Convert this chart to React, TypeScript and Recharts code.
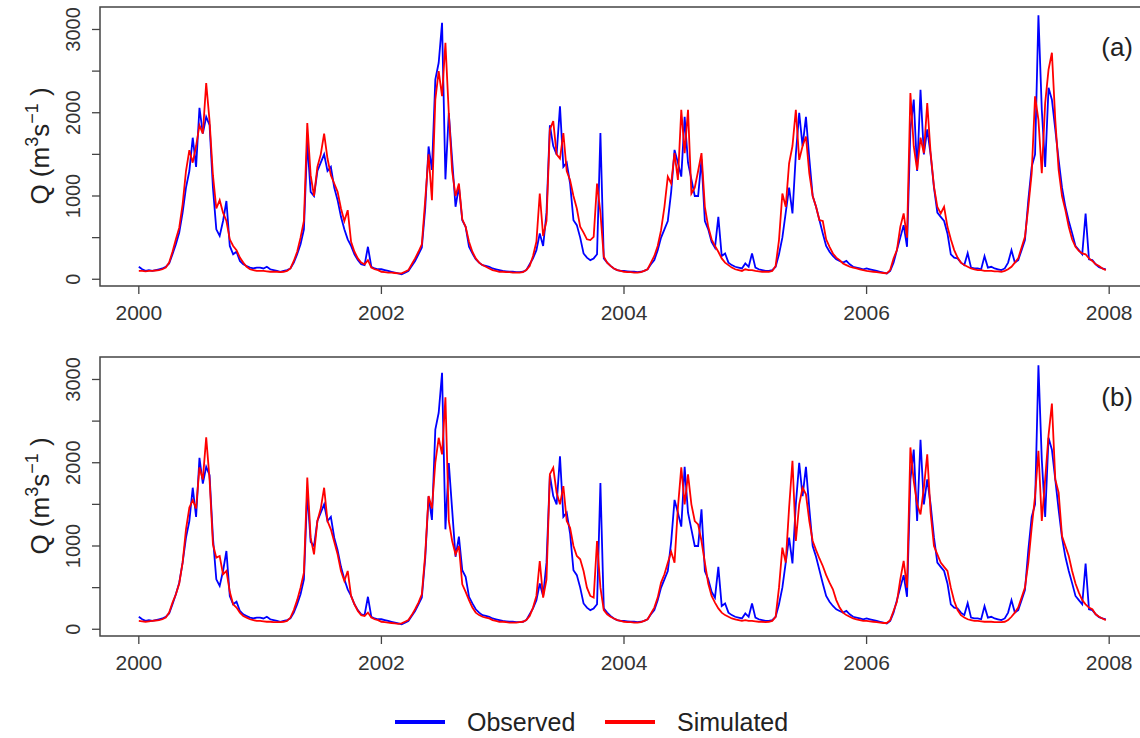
import React from "react";
import { LineChart, Line, XAxis, YAxis, ReferenceArea } from "recharts";

// dekadal discharge (36 steps per year)
const YEARS = [2000, 2001, 2002, 2003, 2004, 2005, 2006, 2007];
const STEPS_PER_YEAR = 36;
const X_TICKS = [2000, 2002, 2004, 2006, 2008];
const Y_TICKS = [0, 500, 1000, 1500, 2000, 2500, 3000];
const Y_LABELS = [0, 1000, 2000, 3000];
const SERIES_NAMES = ["Observed", "Simulated"];
const PANEL_LABELS = ["(a)", "(b)"];

const observed = [
  [150, 120, 100, 110, 100, 110, 120, 130, 150, 190, 300, 420, 560, 800, 1100, 1300, 1700, 1350, 2060, 1750, 1950, 1850, 1100, 600, 520, 700, 940, 400, 300, 330, 220, 180, 160, 140, 130, 140],
  [140, 130, 150, 120, 110, 100, 90, 100, 110, 130, 200, 300, 420, 600, 1650, 1050, 1000, 1300, 1400, 1500, 1300, 1350, 1100, 950, 750, 600, 480, 400, 300, 230, 180, 170, 390, 150, 130, 120],
  [120, 110, 100, 90, 80, 70, 60, 80, 100, 160, 220, 300, 380, 850, 1595, 1313, 2397, 2600, 3080, 1200, 1996, 1434, 871, 1112, 710, 630, 390, 310, 240, 200, 170, 160, 150, 130, 120, 110],
  [100, 95, 90, 90, 85, 85, 90, 110, 180, 250, 350, 550, 400, 800, 1850, 1600, 1500, 2076, 1350, 1400, 1150, 710, 650, 500, 310, 260, 230, 250, 300, 1755, 250, 200, 160, 130, 110, 100],
  [100, 95, 90, 90, 85, 90, 100, 120, 180, 230, 350, 500, 600, 700, 1050, 1554, 1400, 1233, 1950, 1400, 1200, 1000, 1000, 1440, 700, 600, 450, 380, 750, 280, 310, 200, 170, 150, 140, 130],
  [190, 150, 310, 140, 120, 110, 100, 100, 110, 150, 300, 500, 800, 1100, 790, 1500, 2000, 1600, 1950, 1450, 1000, 870, 710, 550, 400, 330, 280, 240, 220, 200, 220, 180, 150, 140, 130, 120],
  [130, 120, 110, 100, 90, 80, 70, 100, 200, 350, 500, 650, 390, 1800, 2157, 1300, 2277, 1500, 1800, 1500, 1100, 800, 750, 700, 550, 300, 260, 250, 200, 170, 313, 140, 130, 130, 120, 277],
  [140, 150, 130, 120, 110, 130, 200, 350, 200, 230, 350, 470, 950, 1350, 1500, 3170, 2036, 1349, 2300, 2157, 1800, 1434, 1100, 870, 700, 554, 400, 350, 300, 790, 240, 230, 180, 145, 130, 120],
];

const simulatedA = [
  [100, 100, 95, 100, 100, 105, 110, 120, 140, 200, 330, 480, 620, 900, 1300, 1550, 1400, 1600, 1850, 1750, 2357, 1900, 1250, 850, 950, 800, 700, 480, 400, 350, 260, 200, 150, 120, 110, 100],
  [100, 100, 95, 90, 90, 90, 85, 90, 100, 130, 220, 330, 500, 700, 1875, 1250, 1000, 1350, 1500, 1750, 1450, 1250, 1150, 1050, 850, 700, 830, 450, 330, 250, 200, 180, 230, 140, 120, 110],
  [90, 85, 80, 80, 75, 70, 70, 90, 110, 180, 250, 330, 420, 950, 1500, 950, 2157, 2500, 2200, 2840, 1996, 1300, 1000, 1150, 720, 630, 450, 330, 250, 200, 170, 150, 130, 110, 100, 90],
  [90, 85, 85, 80, 80, 80, 85, 110, 160, 280, 450, 1030, 520, 700, 1800, 1900, 1500, 1450, 1755, 1300, 1190, 1000, 850, 630, 560, 480, 470, 510, 1150, 800, 270, 200, 160, 130, 110, 100],
  [90, 85, 85, 80, 80, 85, 100, 120, 200, 280, 400, 590, 870, 1233, 1150, 1515, 1193, 2036, 1515, 2036, 1030, 1100, 1300, 1515, 870, 630, 480, 400, 330, 250, 200, 170, 140, 120, 110, 100],
  [120, 110, 110, 100, 95, 90, 90, 90, 100, 160, 470, 1030, 870, 1393, 1600, 2036, 1434, 1600, 1715, 1273, 1000, 870, 710, 700, 480, 390, 310, 260, 230, 190, 170, 150, 140, 130, 120, 110],
  [100, 95, 90, 85, 80, 75, 70, 110, 250, 350, 630, 790, 500, 2237, 1595, 1313, 1700, 1515, 2116, 1515, 1112, 870, 790, 870, 630, 480, 350, 260, 200, 170, 150, 130, 120, 110, 110, 100],
  [100, 100, 95, 95, 90, 100, 120, 150, 200, 250, 380, 510, 870, 1273, 2197, 1915, 1273, 2116, 2518, 2720, 1915, 1313, 1000, 830, 630, 480, 390, 340, 310, 300, 250, 220, 180, 160, 130, 110],
];

const simulatedB = [
  [100, 95, 90, 95, 100, 105, 110, 120, 140, 200, 320, 420, 550, 800, 1200, 1461, 1550, 1450, 1944, 1800, 2305, 1800, 1020, 860, 880, 660, 700, 450, 300, 260, 200, 160, 140, 120, 110, 100],
  [100, 95, 90, 90, 85, 85, 85, 90, 100, 140, 230, 350, 500, 680, 1823, 1100, 900, 1300, 1450, 1700, 1300, 1200, 1050, 900, 700, 580, 700, 400, 300, 220, 170, 160, 200, 140, 120, 110],
  [90, 85, 80, 75, 70, 65, 70, 90, 110, 170, 240, 320, 420, 900, 1600, 1450, 2000, 2300, 2100, 2787, 1300, 1060, 900, 1000, 540, 450, 350, 260, 200, 170, 150, 140, 130, 110, 100, 90],
  [90, 85, 80, 80, 80, 85, 90, 110, 160, 260, 400, 820, 380, 600, 1863, 1940, 1640, 1500, 1720, 1300, 1220, 1000, 880, 840, 700, 500, 400, 380, 1060, 500, 230, 180, 150, 130, 110, 100],
  [90, 85, 85, 80, 80, 85, 100, 120, 190, 260, 380, 560, 660, 800, 930, 800, 1460, 1944, 1500, 1860, 1500, 1300, 1260, 1060, 800, 550, 400, 320, 250, 200, 170, 150, 130, 120, 110, 100],
  [110, 100, 100, 95, 90, 90, 85, 90, 100, 150, 500, 980, 800, 1460, 2024, 1060, 1500, 1700, 1620, 1300, 1060, 950, 850, 760, 650, 560, 480, 350, 260, 200, 170, 150, 130, 120, 110, 100],
  [100, 95, 90, 85, 80, 75, 75, 110, 220, 330, 600, 820, 500, 2184, 1780, 1500, 1380, 1700, 2100, 1400, 1000, 900, 800, 750, 700, 500, 340, 230, 170, 140, 120, 110, 100, 100, 95, 90],
  [90, 90, 85, 85, 85, 90, 110, 150, 200, 260, 380, 500, 800, 1220, 1600, 2144, 1300, 1800, 2330, 2710, 1800, 1640, 1120, 1000, 880, 700, 550, 440, 350, 300, 260, 240, 180, 150, 130, 110],
];

const X_DOMAIN = [1999.68, 2008.32];
const Y_DOMAIN = [-81, 3270];
const FONT = "'Liberation Sans', Arial, sans-serif";
const TEXT = "#333";

function buildRows(sim: number[][]) {
  const rows: { t: number; obs: number; sim: number }[] = [];
  YEARS.forEach((yr, yi) => {
    for (let i = 0; i < STEPS_PER_YEAR; i++) {
      rows.push({ t: yr + i / STEPS_PER_YEAR, obs: observed[yi][i], sim: sim[yi][i] });
    }
  });
  return rows;
}

function XTick(p: any) {
  return (
    <text x={p.x} y={p.y + 24} textAnchor="middle" fontSize={21} fill={TEXT} fontFamily={FONT}>
      {p.payload.value}
    </text>
  );
}

function YTick(p: any) {
  if (!Y_LABELS.includes(p.payload.value)) return <g />;
  const bx = p.x - 10;
  return (
    <text x={bx} y={p.y} transform={`rotate(-90 ${bx} ${p.y})`} textAnchor="middle" fontSize={20} fill={TEXT} fontFamily={FONT}>
      {p.payload.value}
    </text>
  );
}

function Panel({ sim }: { sim: number[][] }) {
  const data = buildRows(sim);
  return (
    <LineChart width={1160} height={330} data={data} margin={{ top: 7, right: 12, bottom: 0, left: 0 }}>
      <XAxis
        dataKey="t"
        type="number"
        domain={X_DOMAIN}
        ticks={X_TICKS}
        interval={0}
        height={44}
        tickSize={8}
        axisLine={false}
        tickLine={{ stroke: "#444", strokeWidth: 1.3 }}
        tick={XTick}
        allowDataOverflow
      />
      <YAxis
        type="number"
        domain={Y_DOMAIN}
        ticks={Y_TICKS}
        interval={0}
        width={100}
        tickSize={8}
        axisLine={false}
        tickLine={{ stroke: "#444", strokeWidth: 1.3 }}
        tick={YTick}
        allowDataOverflow
      />
      <Line dataKey="obs" stroke="#0000ff" strokeWidth={1.8} dot={false} activeDot={false} isAnimationActive={false} />
      <Line dataKey="sim" stroke="#ff0000" strokeWidth={1.8} dot={false} activeDot={false} isAnimationActive={false} />
      <ReferenceArea
        x1={X_DOMAIN[0]}
        x2={X_DOMAIN[1]}
        y1={Y_DOMAIN[0]}
        y2={Y_DOMAIN[1]}
        fill="none"
        fillOpacity={0}
        stroke="#444"
        strokeWidth={1.5}
        ifOverflow="visible"
      />
    </LineChart>
  );
}

function AxisTitle({ cy }: { cy: number }) {
  const bx = 49;
  return (
    <text x={bx} y={cy} transform={`rotate(-90 ${bx} ${cy})`} textAnchor="middle" fontSize={26} fill="#222" fontFamily={FONT}>
      Q (m
      <tspan dy={-11} fontSize={18}>3</tspan>
      <tspan dy={11}>s</tspan>
      <tspan dy={-11} fontSize={18}>−1</tspan>
      <tspan dy={11}> )</tspan>
    </text>
  );
}

export default function App() {
  return (
    <div style={{ position: "relative", width: 1140, height: 738, overflow: "hidden", background: "#fff" }}>
      <style>{"body{margin:0;overflow:hidden}"}</style>
      <div style={{ position: "absolute", left: 0, top: 0 }}>
        <Panel sim={simulatedA} />
      </div>
      <div style={{ position: "absolute", left: 0, top: 350 }}>
        <Panel sim={simulatedB} />
      </div>
      <svg width={1140} height={738} style={{ position: "absolute", left: 0, top: 0, pointerEvents: "none" }}>
        <AxisTitle cy={146} />
        <AxisTitle cy={496} />
        <text x={1133} y={56} textAnchor="end" fontSize={26} fill="#222" fontFamily={FONT}>{PANEL_LABELS[0]}</text>
        <text x={1133} y={406} textAnchor="end" fontSize={26} fill="#222" fontFamily={FONT}>{PANEL_LABELS[1]}</text>
        <line x1={395} x2={445} y1={722} y2={722} stroke="#0000ff" strokeWidth={4} />
        <text x={467} y={731} fontSize={25} fill="#222" fontFamily={FONT}>{SERIES_NAMES[0]}</text>
        <line x1={605} x2={655} y1={722} y2={722} stroke="#ff0000" strokeWidth={4} />
        <text x={677} y={731} fontSize={25} fill="#222" fontFamily={FONT}>{SERIES_NAMES[1]}</text>
      </svg>
    </div>
  );
}
